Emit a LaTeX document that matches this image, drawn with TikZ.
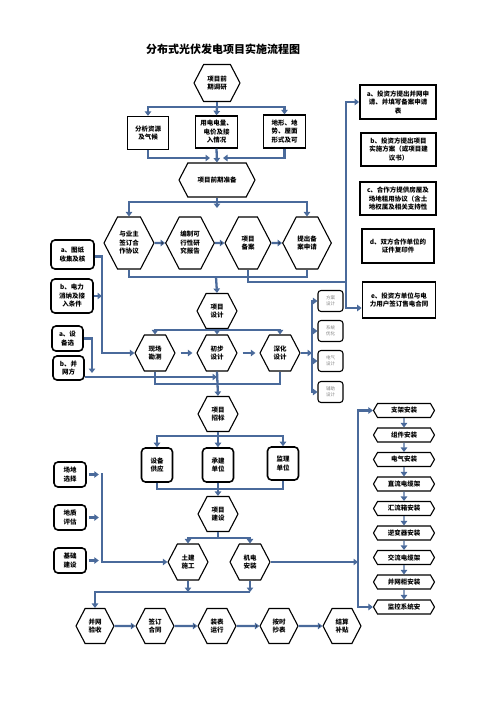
\documentclass[tikz,border=0pt]{standalone}
\usepackage{fontspec}
\setmainfont{Noto Sans CJK SC}
\usetikzlibrary{shapes.symbols,arrows.meta}
\definecolor{linkblue}{RGB}{74,106,155}
\newcommand{\lbl}{\bfseries\fontsize{6.5}{8.5}\selectfont}
\tikzset{
  hexa/.style={signal,signal to=east and west,signal pointer angle=125,draw,line width=1.1pt,fill=white,align=center,inner sep=1pt,font=\lbl},
  sqbox/.style={draw,line width=1.3pt,align=center,inner sep=1pt,font=\lbl},
  rbox/.style={draw,rounded corners=4pt,line width=1.6pt,align=center,inner sep=1pt,font=\lbl},
  gbox/.style={draw,rounded corners=3pt,line width=1.1pt,align=center,inner sep=0.5pt,text=gray,minimum width=25pt,minimum height=21pt,font=\fontsize{4.5}{6}\selectfont},
  tbox/.style={signal,signal to=east and west,signal pointer angle=120,draw,line width=1.1pt,minimum width=61pt,minimum height=14pt,inner sep=0pt,font=\lbl},
  link/.style={draw=linkblue,line width=2.3pt}
}
\begin{document}
\begin{tikzpicture}[x=1pt,y=-1pt,>={Triangle[length=4.5pt,width=6.5pt]}]
      \useasboundingbox (0,0) rectangle (496,702);
      \node[font=\bfseries\fontsize{11}{13}\selectfont] (title) at (223,49) {分布式光伏发电项目实施流程图};

      \node[hexa,minimum width=46pt,minimum height=37pt] (pre) at (217,83) {项目前\\期调研};
      \node[sqbox,minimum width=41pt,minimum height=33pt] (res) at (148,133) {分析资源\\及气候};
      \node[sqbox,minimum width=42pt,minimum height=32pt] (elec) at (216.5,132) {用电电量、\\电价及接\\入情况};
      \node[sqbox,minimum width=42pt,minimum height=33pt] (terr) at (284.5,131.5) {地形、地\\势、屋面\\形式及可};
      \node[hexa,minimum width=76pt,minimum height=34pt] (prep) at (217,180) {项目前期准备};

      \node[hexa,minimum width=50pt,minimum height=52pt] (sign) at (129,243) {与业主\\签订合\\作协议};
      \node[hexa,minimum width=46pt,minimum height=52pt] (feas) at (190,243) {编制可\\行性研\\究报告};
      \node[hexa,minimum width=46pt,minimum height=52pt] (rec) at (248,243) {项目\\备案};
      \node[hexa,minimum width=46pt,minimum height=52pt] (app) at (307,243) {提出备\\案申请};

      \node[sqbox,line width=1.8pt,minimum width=76pt,minimum height=34pt] (ra) at (398,102) {a、投资方提出并网申\\请、并填写备案申请\\表};
      \node[sqbox,line width=1.8pt,minimum width=75pt,minimum height=33pt] (rb) at (398.5,149.5) {b、投资方提出项目\\实施方案（或项目建\\议书）};
      \node[sqbox,line width=1.8pt,minimum width=76pt,minimum height=33pt] (rc) at (398,198.5) {c、合作方提供房屋及\\场地租用协议（含土\\地权属及相关支持性};
      \node[sqbox,line width=1.8pt,minimum width=72pt,minimum height=34pt] (rd) at (398,246) {d、双方合作单位的\\证件复印件};
      \node[sqbox,line width=1.8pt,minimum width=73pt,minimum height=36pt] (re) at (399,300) {e、投资方单位与电\\力用户签订售电合同};

      \node[rbox,minimum width=43pt,minimum height=29pt] (la) at (72.5,254.5) {a、图纸\\收集及核};
      \node[rbox,minimum width=42pt,minimum height=34pt] (lb) at (72,296) {b、电力\\消纳及接\\入条件};
      \node[rbox,minimum width=31pt,minimum height=25pt] (lc) at (67.5,338.5) {a、设\\备选};
      \node[rbox,minimum width=31pt,minimum height=24pt] (ld) at (68.5,368) {b、并\\网方};

      \node[hexa,minimum width=40pt,minimum height=35pt] (design) at (217,311) {项目\\设计};
      \node[hexa,minimum width=40pt,minimum height=36pt] (survey) at (155,353) {现场\\勘测};
      \node[hexa,minimum width=40pt,minimum height=36pt] (prelim) at (217,353) {初步\\设计};
      \node[hexa,minimum width=40pt,minimum height=36pt] (deep) at (280,353) {深化\\设计};

      \node[gbox] (s1) at (330.5,301) {方案\\设计};
      \node[gbox] (s2) at (330.5,331) {系统\\优化};
      \node[gbox] (s3) at (330.5,361) {电气\\设计};
      \node[gbox] (s4) at (330.5,392) {辅助\\设计};

      \node[hexa,minimum width=40pt,minimum height=35pt] (bid) at (218,414) {项目\\招标};
      \node[rbox,minimum width=31pt,minimum height=34pt] (equip) at (157,465) {设备\\供应};
      \node[rbox,minimum width=31pt,minimum height=34pt] (contr) at (218,465) {承建\\单位};
      \node[rbox,minimum width=31pt,minimum height=33pt] (superv) at (283,463.5) {监理\\单位};
      \node[hexa,minimum width=40pt,minimum height=35pt] (build) at (218,514) {项目\\建设};
      \node[hexa,minimum width=40pt,minimum height=36pt] (civil) at (188,562) {土建\\施工};
      \node[hexa,minimum width=40pt,minimum height=36pt] (mech) at (250,562) {机电\\安装};

      \node[rbox,minimum width=32pt,minimum height=25pt] (site) at (70,474.5) {场地\\选择};
      \node[rbox,minimum width=32pt,minimum height=25pt] (geo) at (70,517.5) {地质\\评估};
      \node[rbox,minimum width=32pt,minimum height=25pt] (found) at (70,560.5) {基础\\建设};

      \node[tbox] (t1) at (404,410.5) {支架安装};
      \node[tbox] (t2) at (404,435) {组件安装};
      \node[tbox] (t3) at (404,459.5) {电气安装};
      \node[tbox] (t4) at (404,484) {直流电缆架};
      \node[tbox] (t5) at (404,508.5) {汇流箱安装};
      \node[tbox] (t6) at (404,533) {逆变器安装};
      \node[tbox] (t7) at (404,557.5) {交流电缆架};
      \node[tbox] (t8) at (404,582) {并网柜安装};
      \node[tbox] (t9) at (404,607) {监控系统安};

      \node[hexa,minimum width=38pt,minimum height=35pt] (grid) at (95,626) {并网\\验收};
      \node[hexa,minimum width=38pt,minimum height=35pt] (deal) at (155,626) {签订\\合同};
      \node[hexa,minimum width=38pt,minimum height=35pt] (meter) at (217,626) {装表\\运行};
      \node[hexa,minimum width=38pt,minimum height=35pt] (read) at (279,626) {按时\\抄表};
      \node[hexa,minimum width=38pt,minimum height=35pt] (settle) at (342,626) {结算\\补贴};

      \coordinate (j1) at (217,107);
      \coordinate (j2a) at (210,158);
      \coordinate (j2b) at (223,158);
      \coordinate (j3) at (217,202);
      \coordinate (j3b) at (217,208);
      \coordinate (j4) at (216,277);
      \coordinate (j5) at (346,282);
      \coordinate (j6) at (217,330);
      \coordinate (j7) at (312,353);
      \coordinate (j8) at (102,353);
      \coordinate (j9) at (92,373);
      \coordinate (j10) at (217,377);
      \coordinate (j11) at (217,384);
      \coordinate (j12) at (218,436);
      \coordinate (j13) at (218,489);
      \coordinate (j14) at (218,538);
      \coordinate (j15) at (102,473);
      \coordinate (j16) at (358,562);
      \coordinate (j17) at (250,592);

      \draw[link] (pre.south) -- (j1);
      \draw[link,->] (j1) -| (res.north);
      \draw[link,->] (j1) -- (elec.north);
      \draw[link,->] (j1) -| (terr.north);
      \draw[link,->] (res.south) |- (j2a);
      \draw[link,->] (terr.south) |- (j2b);
      \draw[link,->] (elec.south) -- (prep.north);

      \draw[link,->] (prep.south) -- (j3b);
      \draw[link,->] (j3) -| (sign.north);
      \draw[link,->] (j3) -| (app.north);
      \path[link,->] (sign) edge (feas) (feas) edge (rec) (rec) edge (app);

      \draw[link] (sign.south) |- (j4) -| (app.south);
      \draw[link,->] (j4) -- (design.north);
      \draw[link] (rec.south) |- (j5);
      \draw[link,->] (j5) |- (ra.west);
      \draw[link,->] (j5) |- ([yshift=-8pt]re.west);

      \draw[link] (design.south) -- (j6);
      \draw[link,->] (j6) -| (survey.north);
      \draw[link,->] (j6) -- (prelim.north);
      \draw[link,->] (j6) -| (deep.north);
      \draw[link,->] ([xshift=5pt]survey.east) -- ([xshift=-4pt]prelim.west);
      \draw[link,->] ([xshift=5pt]prelim.east) -- ([xshift=-4pt]deep.west);
      \draw[link,->] (deep.east) -- (j7);
      \draw[link,->] (j7) |- (s1.west);
      \draw[link,->] (j7) |- (s2.west);
      \draw[link,->] (j7) |- (s3.west);
      \draw[link,->] (j7) |- (s4.west);

      \draw[link,->] ([yshift=-2pt]la.east) -| (j8) -- (survey.west);
      \draw[link,->] (lb.east) -- (lb.east -| j8);
      \draw[link,->] (lc.east) -| (j9);
      \draw[link,->] ([yshift=-9pt]ld.east) -- (j10);
      \draw[link] (survey.south) |- (j11) -| (deep.south);
      \draw[link,->] (prelim.south) -- (bid.north);

      \draw[link] (bid.south) -- (j12);
      \draw[link,->] (j12) -| (equip.north);
      \draw[link,->] (j12) -- (contr.north);
      \draw[link,->] (j12) -| (superv.north);
      \draw[link] (equip.south) |- (j13) -| (superv.south);
      \draw[link,->] (contr.south) -- (build.north);
      \draw[link] (build.south) -- (j14);
      \draw[link,->] (j14) -| (civil.north);
      \draw[link,->] (j14) -| (mech.north);

      \draw[link,->] ([xshift=2pt]site.east) -- ([xshift=12pt]site.east);
      \draw[link,->] ([xshift=2pt]geo.east) -- ([xshift=12pt]geo.east);
      \draw[link,->] ([xshift=2pt]found.east) -- ([xshift=12pt]found.east);
      \draw[link,->] (j15) |- (civil.west);

      \draw[link,->] (mech.east) -- (j16);
      \draw[link,->] (j16) |- (t1.west);
      \draw[link,->] (j16) |- (t9.west);
      \foreach \a/\b in {t1/t2,t2/t3,t3/t4,t4/t5,t5/t6,t6/t7,t7/t8,t8/t9}
        \draw[link,line width=1.4pt,->] (\a) -- (\b);

      \draw[link,->] (civil.south) -- (civil.south |- j17);
      \draw[link,->] (mech.south) -- (j17);
      \draw[link,->] (j17) -| (grid.north);
      \path[link,->] (grid) edge (deal) (deal) edge (meter) (meter) edge (read) (read) edge (settle);
    \end{tikzpicture}
\end{document}
